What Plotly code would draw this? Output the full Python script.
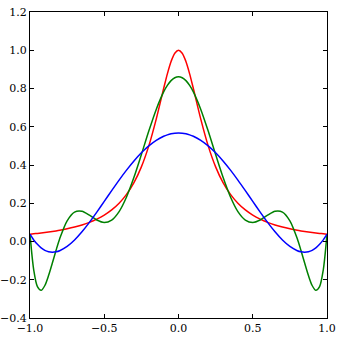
import plotly.graph_objects as go

# sample positions
x_vals = [-1.0, -0.975, -0.95, -0.925, -0.9, -0.875, -0.85, -0.825, -0.8, -0.75, -0.7, -0.65, -0.6,
          -0.55, -0.5, -0.45, -0.4, -0.35, -0.3, -0.25, -0.2, -0.15, -0.1, -0.075, -0.05, -0.025,
          0.0,
          0.025, 0.05, 0.075, 0.1, 0.15, 0.2, 0.25, 0.3, 0.35, 0.4, 0.45, 0.5, 0.55, 0.6, 0.65,
          0.7, 0.75, 0.8, 0.825, 0.85, 0.875, 0.9, 0.925, 0.95, 0.975, 1.0]

red_vals = [0.0385, 0.0404, 0.0424, 0.0447, 0.0471, 0.0497, 0.0525, 0.0555, 0.0588, 0.0664, 0.0755,
            0.0865, 0.1, 0.1168, 0.1379, 0.1649, 0.2, 0.2462, 0.3077, 0.3902, 0.5, 0.64, 0.8,
            0.8767, 0.9412, 0.9846,
            1.0,
            0.9846, 0.9412, 0.8767, 0.8, 0.64, 0.5, 0.3902, 0.3077, 0.2462, 0.2, 0.1649, 0.1379,
            0.1168, 0.1, 0.0865, 0.0755, 0.0664, 0.0588, 0.0555, 0.0525, 0.0497, 0.0471, 0.0447,
            0.0424, 0.0404, 0.0385]

green_vals = [0.0385, -0.1480, -0.2360, -0.2554, -0.2300, -0.1781, -0.1138, -0.0472, 0.0147, 0.1084,
              0.1540, 0.1581, 0.1377, 0.1122, 0.0995, 0.1122, 0.1566, 0.2330, 0.3356, 0.4546,
              0.5774, 0.6907, 0.7820, 0.8160, 0.8411, 0.8564,
              0.8615,
              0.8564, 0.8411, 0.8160, 0.7820, 0.6907, 0.5774, 0.4546, 0.3356, 0.2330, 0.1566,
              0.1122, 0.0995, 0.1122, 0.1377, 0.1581, 0.1540, 0.1084, 0.0147, -0.0472, -0.1138,
              -0.1781, -0.2300, -0.2554, -0.2360, -0.1480, 0.0385]

blue_vals = [0.0385, 0.0082, -0.0148, -0.0337, -0.0460, -0.0533, -0.0558, -0.0539, -0.0481, -0.0260,
             0.0078, 0.0506, 0.1000, 0.1537, 0.2097, 0.2661, 0.3212, 0.3733, 0.4213, 0.4638,
             0.5000, 0.5290, 0.5501, 0.5576, 0.5630, 0.5662,
             0.5673,
             0.5662, 0.5630, 0.5576, 0.5501, 0.5290, 0.5000, 0.4638, 0.4213, 0.3733, 0.3212,
             0.2661, 0.2097, 0.1537, 0.1000, 0.0506, 0.0078, -0.0260, -0.0481, -0.0539, -0.0558,
             -0.0533, -0.0460, -0.0337, -0.0148, 0.0082, 0.0385]

x_ticks = [-1.0, -0.5, 0.0, 0.5, 1.0]
x_tick_text = ["\u22121.0", "\u22120.5", "0.0", "0.5", "1.0"]
y_ticks = [-0.4, -0.2, 0.0, 0.2, 0.4, 0.6, 0.8, 1.0, 1.2]
y_tick_text = ["\u22120.4", "\u22120.2", "0.0", "0.2", "0.4", "0.6", "0.8", "1.0", "1.2"]

fig = go.Figure()
for vals, col in [(red_vals, "#ff0000"), (green_vals, "#008000"), (blue_vals, "#0000ff")]:
    fig.add_trace(go.Scatter(x=x_vals, y=vals, mode="lines",
                             line=dict(color=col, width=1.5, shape="spline", smoothing=0.8),
                             showlegend=False, hoverinfo="skip"))

axis_common = dict(showgrid=False, zeroline=False, showline=True, linecolor="black", linewidth=1,
                   mirror="allticks", ticks="inside", ticklen=4, tickcolor="black", tickwidth=1,
                   automargin=False,
                   tickfont=dict(family="DejaVu Serif", size=11, color="black"))

fig.update_layout(
    width=341, height=339,
    margin=dict(l=30, r=14, t=12, b=21, autoexpand=False),
    paper_bgcolor="white", plot_bgcolor="white",
    xaxis=dict(range=[-1, 1], tickvals=x_ticks, ticktext=x_tick_text, **axis_common),
    yaxis=dict(range=[-0.4, 1.2], tickvals=y_ticks, ticktext=y_tick_text, **axis_common),
)

fig.write_html("out.html", config={"displayModeBar": False, "staticPlot": True},
               post_script="document.body.style.margin='0';document.body.style.padding='0';")
